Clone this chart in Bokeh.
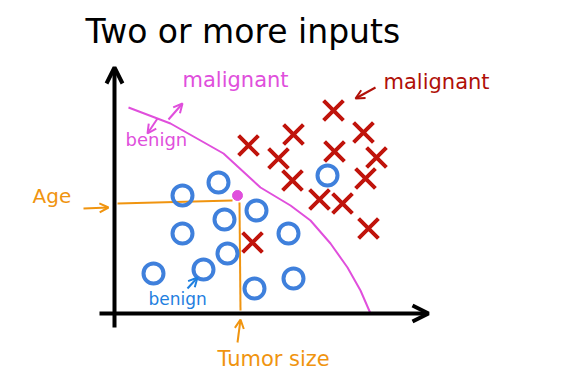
from bokeh.plotting import figure
from bokeh.models import Range1d, Arrow, OpenHead, Label
from bokeh.embed import file_html
from bokeh.resources import INLINE

# ---- data (arbitrary units: tumor size on x, age on y) ----
title_text = "Two or more inputs"
x_label = "Tumor size"
y_label = "Age"

benign_size = [104, 68, 142, 110, 68, 174, 113, 39, 89, 179, 140, 213]
benign_age = [131, 118, 103, 94, 80, 80, 60, 40, 44, 35, 25, 138]

malignant_size = [219, 179, 249, 134, 164, 220, 262, 178, 251, 205, 228, 254, 138]
malignant_age = [203, 179, 181, 168, 155, 162, 156, 133, 135, 114, 110, 85, 71]

boundary_size = [14, 56, 109, 146, 176, 196, 216, 233, 246, 256]
boundary_age = [206, 190, 160, 126, 108, 93, 70, 46, 23, 0]

query_size = [123]
query_age = [118]

# ---- styles ----
FONT = "DejaVu Sans"
ORANGE = "#f0940f"
MAGENTA = "#e04fdc"
RED = "#c0140c"
DARKRED = "#b01008"
BLUE = "#3f80dc"
BLUE_TXT = "#1f80e0"

p = figure(width=582, height=381, x_range=Range1d(-114, 468), y_range=Range1d(-68, 313),
           output_backend="svg", toolbar_location=None, min_border=0,
           x_axis_location=None, y_axis_location=None)
p.grid.visible = False
p.outline_line_color = None
p.background_fill_color = "white"

# hand-drawn axes
p.add_layout(Arrow(end=OpenHead(size=16, line_width=4, line_color="black"),
                   x_start=-15, y_start=0, x_end=314, y_end=0,
                   line_width=4, line_color="black"))
p.add_layout(Arrow(end=OpenHead(size=16, line_width=4, line_color="black"),
                   x_start=0, y_start=-14, x_end=0, y_end=246,
                   line_width=4, line_color="black"))

# decision boundary
p.line(boundary_size, boundary_age, line_color=MAGENTA, line_width=2)

# guide lines to the query point
qx, qy = query_size[0], query_age[0]
p.line([3, qx - 5], [qy - 8, qy - 5], line_color=ORANGE, line_width=2)
p.line([qx + 2, qx + 3], [qy - 7, 3], line_color=ORANGE, line_width=2)

# points
p.scatter(benign_size, benign_age, marker="circle", size=20, fill_color=None,
          line_color=BLUE, line_width=4)
p.scatter(malignant_size, malignant_age, marker="x", size=28,
          line_color=RED, line_width=4)
p.scatter(query_size, query_age, marker="circle", size=10, fill_color=MAGENTA,
          line_color=MAGENTA)

# labels
def lab(x, y, text, size, color):
    p.add_layout(Label(x=x, y=y + 0.4 * size, text=text, text_font=FONT,
                       text_font_size=f"{size}px", text_color=color,
                       text_baseline="alphabetic", text_align="left"))

lab(-29, 269, title_text, 33, "black")
lab(-82, 110, y_label, 20, ORANGE)
lab(103, -54, x_label, 21, ORANGE)
lab(68, 225, "malignant", 21, MAGENTA)
lab(11, 167, "benign", 18, MAGENTA)
lab(269, 223, "malignant", 21, DARKRED)
lab(34, 8, "benign", 17, BLUE_TXT)

# small arrows
def arr(x0, y0, x1, y1, color):
    p.add_layout(Arrow(end=OpenHead(size=9, line_width=2, line_color=color),
                       x_start=x0, y_start=y0, x_end=x1, y_end=y1,
                       line_width=2, line_color=color))

arr(54, 194, 68, 210, MAGENTA)
arr(43, 195, 33, 180, MAGENTA)
arr(73, 25, 83, 36, BLUE_TXT)
arr(261, 226, 241, 215, DARKRED)
arr(-31, 105, -6, 106, ORANGE)
arr(123, -29, 126, -6, ORANGE)

open("out.html", "w").write(file_html(p, INLINE))
